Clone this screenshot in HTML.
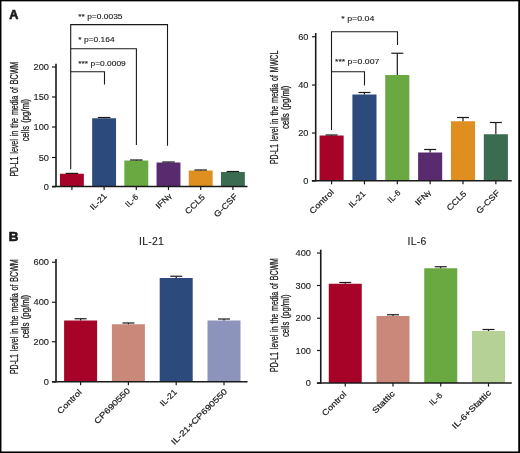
<!DOCTYPE html>
<html lang="en">
<head>
<meta charset="utf-8">
<title>PD-L1 levels figure</title>
<style>
html,body{margin:0;padding:0;background:#fff;}
body{width:520px;height:453px;overflow:hidden;}
svg{display:block;will-change:transform;font-family:'Liberation Sans', Arial, Helvetica, sans-serif;}
</style>
</head>
<body>
<svg width="520" height="453" viewBox="0 0 520 453">
<rect width="520" height="453" fill="#fff"/>
<rect x="59.95" y="173.75" width="23.90" height="12.75" fill="#A70328"/>
<rect x="92.15" y="118.25" width="23.90" height="68.25" fill="#2C4A7C"/>
<rect x="124.35" y="160.50" width="23.90" height="26.00" fill="#6AA842"/>
<rect x="156.55" y="162.50" width="23.90" height="24.00" fill="#592A6E"/>
<rect x="188.75" y="170.50" width="23.90" height="16.00" fill="#DE8F1F"/>
<rect x="220.95" y="172.00" width="23.90" height="14.50" fill="#3B6B50"/>
<line x1="71.9" y1="173.75" x2="71.9" y2="173.4" stroke="#1a1a1a" stroke-width="1.2"/>
<line x1="65.65" y1="173.4" x2="78.15" y2="173.4" stroke="#1a1a1a" stroke-width="1.2"/>
<line x1="104.1" y1="118.25" x2="104.1" y2="117.5" stroke="#1a1a1a" stroke-width="1.2"/>
<line x1="97.85" y1="117.5" x2="110.35" y2="117.5" stroke="#1a1a1a" stroke-width="1.2"/>
<line x1="136.3" y1="160.5" x2="136.3" y2="160" stroke="#1a1a1a" stroke-width="1.2"/>
<line x1="130.05" y1="160" x2="142.55" y2="160" stroke="#1a1a1a" stroke-width="1.2"/>
<line x1="168.5" y1="162.5" x2="168.5" y2="162" stroke="#1a1a1a" stroke-width="1.2"/>
<line x1="162.25" y1="162" x2="174.75" y2="162" stroke="#1a1a1a" stroke-width="1.2"/>
<line x1="200.7" y1="170.5" x2="200.7" y2="170" stroke="#1a1a1a" stroke-width="1.2"/>
<line x1="194.45" y1="170" x2="206.95" y2="170" stroke="#1a1a1a" stroke-width="1.2"/>
<line x1="232.9" y1="172" x2="232.9" y2="171.5" stroke="#1a1a1a" stroke-width="1.2"/>
<line x1="226.65" y1="171.5" x2="239.15" y2="171.5" stroke="#1a1a1a" stroke-width="1.2"/>
<line x1="56" y1="63.8" x2="56" y2="187" stroke="#1a1a1a" stroke-width="1.6"/>
<line x1="52.1" y1="186.5" x2="247.5" y2="186.5" stroke="#1a1a1a" stroke-width="1.6"/>
<line x1="52" y1="67" x2="56" y2="67" stroke="#1a1a1a" stroke-width="1.2"/>
<text transform="translate(49,70.2) scale(1.03,1)" font-size="9.0" text-anchor="end" font-weight="normal" fill="#1a1a1a" stroke="#1a1a1a" stroke-width="0.12">200</text>
<line x1="52" y1="97" x2="56" y2="97" stroke="#1a1a1a" stroke-width="1.2"/>
<text transform="translate(49,100.2) scale(1.03,1)" font-size="9.0" text-anchor="end" font-weight="normal" fill="#1a1a1a" stroke="#1a1a1a" stroke-width="0.12">150</text>
<line x1="52" y1="127" x2="56" y2="127" stroke="#1a1a1a" stroke-width="1.2"/>
<text transform="translate(49,130.2) scale(1.03,1)" font-size="9.0" text-anchor="end" font-weight="normal" fill="#1a1a1a" stroke="#1a1a1a" stroke-width="0.12">100</text>
<line x1="52" y1="157.5" x2="56" y2="157.5" stroke="#1a1a1a" stroke-width="1.2"/>
<text transform="translate(49,160.7) scale(1.03,1)" font-size="9.0" text-anchor="end" font-weight="normal" fill="#1a1a1a" stroke="#1a1a1a" stroke-width="0.12">50</text>
<line x1="52" y1="186.75" x2="56" y2="186.75" stroke="#1a1a1a" stroke-width="1.2"/>
<text transform="translate(49,189.95) scale(1.03,1)" font-size="9.0" text-anchor="end" font-weight="normal" fill="#1a1a1a" stroke="#1a1a1a" stroke-width="0.12">0</text>
<line x1="71.9" y1="186.5" x2="71.9" y2="190.1" stroke="#1a1a1a" stroke-width="1.2"/>
<line x1="104.1" y1="186.5" x2="104.1" y2="190.1" stroke="#1a1a1a" stroke-width="1.2"/>
<line x1="136.3" y1="186.5" x2="136.3" y2="190.1" stroke="#1a1a1a" stroke-width="1.2"/>
<line x1="168.5" y1="186.5" x2="168.5" y2="190.1" stroke="#1a1a1a" stroke-width="1.2"/>
<line x1="200.7" y1="186.5" x2="200.7" y2="190.1" stroke="#1a1a1a" stroke-width="1.2"/>
<line x1="232.9" y1="186.5" x2="232.9" y2="190.1" stroke="#1a1a1a" stroke-width="1.2"/>
<text transform="translate(107.25,196.55) rotate(-45) scale(1.06,1)" font-size="8.2" text-anchor="end" font-weight="normal" fill="#1a1a1a" stroke="#1a1a1a" stroke-width="0.2">IL-21</text>
<text transform="translate(138.75,197.5) rotate(-45) scale(1.02,1)" font-size="8.2" text-anchor="end" font-weight="normal" fill="#1a1a1a" stroke="#1a1a1a" stroke-width="0.2">IL-6</text>
<text transform="translate(171.9,196.4) rotate(-45) scale(1.1,1)" font-size="8.2" text-anchor="end" font-weight="normal" fill="#1a1a1a" stroke="#1a1a1a" stroke-width="0.2">IFN<tspan font-size="6.8">γ</tspan></text>
<text transform="translate(205.4,197.7) rotate(-45) scale(1.15,1)" font-size="8.2" text-anchor="end" font-weight="normal" fill="#1a1a1a" stroke="#1a1a1a" stroke-width="0.2">CCL5</text>
<text transform="translate(238.1,197.05) rotate(-45) scale(1.15,1)" font-size="8.2" text-anchor="end" font-weight="normal" fill="#1a1a1a" stroke="#1a1a1a" stroke-width="0.2">G-CSF</text>
<path d="M70.7 169.3 V24.6 H167.5 V145.8" fill="none" stroke="#1a1a1a" stroke-width="1.1"/>
<path d="M70.7 48.7 H136.4 V145" fill="none" stroke="#1a1a1a" stroke-width="1.1"/>
<path d="M70.7 71.7 H104.5 V84.5" fill="none" stroke="#1a1a1a" stroke-width="1.1"/>
<text transform="translate(78.3,19) scale(1.08,1)" font-size="7.8" text-anchor="start" font-weight="normal" fill="#1a1a1a" stroke="#1a1a1a" stroke-width="0.12">** p=0.0035</text>
<text transform="translate(78.3,42.2) scale(1.08,1)" font-size="7.8" text-anchor="start" font-weight="normal" fill="#1a1a1a" stroke="#1a1a1a" stroke-width="0.12">* p=0.164</text>
<text transform="translate(78.3,66.3) scale(1.08,1)" font-size="7.8" text-anchor="start" font-weight="normal" fill="#1a1a1a" stroke="#1a1a1a" stroke-width="0.12">*** p=0.0009</text>
<text transform="translate(17.9,119.2) rotate(-90)" font-size="10.4" text-anchor="middle" textLength="114.8" lengthAdjust="spacingAndGlyphs" fill="#1a1a1a" stroke="#1a1a1a" stroke-width="0.28" word-spacing="1.4">PD-L1 level in the media of BCWM</text>
<text transform="translate(28.6,120.1) rotate(-90)" font-size="10.4" text-anchor="middle" textLength="42.5" lengthAdjust="spacingAndGlyphs" fill="#1a1a1a" stroke="#1a1a1a" stroke-width="0.28" word-spacing="1.4">cells (pg/ml)</text>
<rect x="319.55" y="135.50" width="24.10" height="45.25" fill="#A70328"/>
<rect x="352.40" y="94.50" width="24.10" height="86.25" fill="#2C4A7C"/>
<rect x="385.25" y="75.00" width="24.10" height="105.75" fill="#6AA842"/>
<rect x="418.10" y="152.50" width="24.10" height="28.25" fill="#592A6E"/>
<rect x="450.95" y="121.25" width="24.10" height="59.50" fill="#DE8F1F"/>
<rect x="483.80" y="134.25" width="24.10" height="46.50" fill="#3B6B50"/>
<line x1="331.6" y1="135.5" x2="331.6" y2="135" stroke="#1a1a1a" stroke-width="1.2"/>
<line x1="325.6" y1="135" x2="337.6" y2="135" stroke="#1a1a1a" stroke-width="1.2"/>
<line x1="364.45" y1="94.5" x2="364.45" y2="92.5" stroke="#1a1a1a" stroke-width="1.2"/>
<line x1="358.45" y1="92.5" x2="370.45" y2="92.5" stroke="#1a1a1a" stroke-width="1.2"/>
<line x1="397.3" y1="75" x2="397.3" y2="53.25" stroke="#1a1a1a" stroke-width="1.2"/>
<line x1="391.3" y1="53.25" x2="403.3" y2="53.25" stroke="#1a1a1a" stroke-width="1.2"/>
<line x1="430.15" y1="152.5" x2="430.15" y2="149.5" stroke="#1a1a1a" stroke-width="1.2"/>
<line x1="424.15" y1="149.5" x2="436.15" y2="149.5" stroke="#1a1a1a" stroke-width="1.2"/>
<line x1="463" y1="121.25" x2="463" y2="117.5" stroke="#1a1a1a" stroke-width="1.2"/>
<line x1="457" y1="117.5" x2="469" y2="117.5" stroke="#1a1a1a" stroke-width="1.2"/>
<line x1="495.85" y1="134.25" x2="495.85" y2="122.5" stroke="#1a1a1a" stroke-width="1.2"/>
<line x1="489.85" y1="122.5" x2="501.85" y2="122.5" stroke="#1a1a1a" stroke-width="1.2"/>
<line x1="315.7" y1="33" x2="315.7" y2="181.25" stroke="#1a1a1a" stroke-width="1.6"/>
<line x1="311.8" y1="180.75" x2="511.75" y2="180.75" stroke="#1a1a1a" stroke-width="1.6"/>
<line x1="312" y1="36.75" x2="315.7" y2="36.75" stroke="#1a1a1a" stroke-width="1.2"/>
<text transform="translate(308.5,39.95) scale(1.03,1)" font-size="9.0" text-anchor="end" font-weight="normal" fill="#1a1a1a" stroke="#1a1a1a" stroke-width="0.12">60</text>
<line x1="312" y1="85" x2="315.7" y2="85" stroke="#1a1a1a" stroke-width="1.2"/>
<text transform="translate(308.5,88.2) scale(1.03,1)" font-size="9.0" text-anchor="end" font-weight="normal" fill="#1a1a1a" stroke="#1a1a1a" stroke-width="0.12">40</text>
<line x1="312" y1="133" x2="315.7" y2="133" stroke="#1a1a1a" stroke-width="1.2"/>
<text transform="translate(308.5,136.2) scale(1.03,1)" font-size="9.0" text-anchor="end" font-weight="normal" fill="#1a1a1a" stroke="#1a1a1a" stroke-width="0.12">20</text>
<line x1="312" y1="181" x2="315.7" y2="181" stroke="#1a1a1a" stroke-width="1.2"/>
<text transform="translate(308.5,184.2) scale(1.03,1)" font-size="9.0" text-anchor="end" font-weight="normal" fill="#1a1a1a" stroke="#1a1a1a" stroke-width="0.12">0</text>
<line x1="331.6" y1="180.75" x2="331.6" y2="184.35" stroke="#1a1a1a" stroke-width="1.2"/>
<line x1="364.45" y1="180.75" x2="364.45" y2="184.35" stroke="#1a1a1a" stroke-width="1.2"/>
<line x1="397.3" y1="180.75" x2="397.3" y2="184.35" stroke="#1a1a1a" stroke-width="1.2"/>
<line x1="430.15" y1="180.75" x2="430.15" y2="184.35" stroke="#1a1a1a" stroke-width="1.2"/>
<line x1="463" y1="180.75" x2="463" y2="184.35" stroke="#1a1a1a" stroke-width="1.2"/>
<line x1="495.85" y1="180.75" x2="495.85" y2="184.35" stroke="#1a1a1a" stroke-width="1.2"/>
<text transform="translate(334.4,192.75) rotate(-45) scale(1.16,1)" font-size="8.2" text-anchor="end" font-weight="normal" fill="#1a1a1a" stroke="#1a1a1a" stroke-width="0.2">Control</text>
<text transform="translate(365.9,194.3) rotate(-45) scale(1.06,1)" font-size="8.2" text-anchor="end" font-weight="normal" fill="#1a1a1a" stroke="#1a1a1a" stroke-width="0.2">IL-21</text>
<text transform="translate(400.95,193.2) rotate(-45) scale(1.02,1)" font-size="8.2" text-anchor="end" font-weight="normal" fill="#1a1a1a" stroke="#1a1a1a" stroke-width="0.2">IL-6</text>
<text transform="translate(431.5,193.0) rotate(-45) scale(1.1,1)" font-size="8.2" text-anchor="end" font-weight="normal" fill="#1a1a1a" stroke="#1a1a1a" stroke-width="0.2">IFN<tspan font-size="6.8">γ</tspan></text>
<text transform="translate(467.0,194.2) rotate(-45) scale(1.15,1)" font-size="8.2" text-anchor="end" font-weight="normal" fill="#1a1a1a" stroke="#1a1a1a" stroke-width="0.2">CCL5</text>
<text transform="translate(500.3,193.4) rotate(-45) scale(1.15,1)" font-size="8.2" text-anchor="end" font-weight="normal" fill="#1a1a1a" stroke="#1a1a1a" stroke-width="0.2">G-CSF</text>
<path d="M331.5 130 V31.7 H397.5 V45" fill="none" stroke="#1a1a1a" stroke-width="1.1"/>
<path d="M331.5 71.7 H364.5 V85.5" fill="none" stroke="#1a1a1a" stroke-width="1.1"/>
<text transform="translate(341.3,21.3) scale(1.13,1)" font-size="7.8" text-anchor="start" font-weight="normal" fill="#1a1a1a" stroke="#1a1a1a" stroke-width="0.12">* p=0.04</text>
<text transform="translate(335,63.8) scale(1.12,1)" font-size="7.8" text-anchor="start" font-weight="normal" fill="#1a1a1a" stroke="#1a1a1a" stroke-width="0.12">*** p=0.007</text>
<text transform="translate(277.9,107.4) rotate(-90)" font-size="10.4" text-anchor="middle" textLength="113.39999999999999" lengthAdjust="spacingAndGlyphs" fill="#1a1a1a" stroke="#1a1a1a" stroke-width="0.28" word-spacing="1.4">PD-L1 level in the media of MWCL</text>
<text transform="translate(288.6,107.3) rotate(-90)" font-size="10.4" text-anchor="middle" textLength="43.4" lengthAdjust="spacingAndGlyphs" fill="#1a1a1a" stroke="#1a1a1a" stroke-width="0.28" word-spacing="1.4">cells (pg/ml)</text>
<rect x="64.10" y="320.50" width="33.00" height="61.25" fill="#A70328"/>
<rect x="111.90" y="324.25" width="33.00" height="57.50" fill="#CA887B"/>
<rect x="159.70" y="278.00" width="33.00" height="103.75" fill="#2C4A7C"/>
<rect x="207.50" y="320.50" width="33.00" height="61.25" fill="#8D94BC"/>
<line x1="80.6" y1="320.5" x2="80.6" y2="318.75" stroke="#1a1a1a" stroke-width="1.2"/>
<line x1="74.6" y1="318.75" x2="86.6" y2="318.75" stroke="#1a1a1a" stroke-width="1.2"/>
<line x1="128.4" y1="324.25" x2="128.4" y2="323" stroke="#1a1a1a" stroke-width="1.2"/>
<line x1="122.4" y1="323" x2="134.4" y2="323" stroke="#1a1a1a" stroke-width="1.2"/>
<line x1="176.2" y1="278" x2="176.2" y2="276.25" stroke="#1a1a1a" stroke-width="1.2"/>
<line x1="170.2" y1="276.25" x2="182.2" y2="276.25" stroke="#1a1a1a" stroke-width="1.2"/>
<line x1="224" y1="320.5" x2="224" y2="319" stroke="#1a1a1a" stroke-width="1.2"/>
<line x1="218" y1="319" x2="230" y2="319" stroke="#1a1a1a" stroke-width="1.2"/>
<line x1="56" y1="259" x2="56" y2="382.25" stroke="#1a1a1a" stroke-width="1.6"/>
<line x1="52.1" y1="381.75" x2="247.5" y2="381.75" stroke="#1a1a1a" stroke-width="1.6"/>
<line x1="52" y1="262.25" x2="56" y2="262.25" stroke="#1a1a1a" stroke-width="1.2"/>
<text transform="translate(49,265.45) scale(1.03,1)" font-size="9.0" text-anchor="end" font-weight="normal" fill="#1a1a1a" stroke="#1a1a1a" stroke-width="0.12">600</text>
<line x1="52" y1="302.25" x2="56" y2="302.25" stroke="#1a1a1a" stroke-width="1.2"/>
<text transform="translate(49,305.45) scale(1.03,1)" font-size="9.0" text-anchor="end" font-weight="normal" fill="#1a1a1a" stroke="#1a1a1a" stroke-width="0.12">400</text>
<line x1="52" y1="341.75" x2="56" y2="341.75" stroke="#1a1a1a" stroke-width="1.2"/>
<text transform="translate(49,344.95) scale(1.03,1)" font-size="9.0" text-anchor="end" font-weight="normal" fill="#1a1a1a" stroke="#1a1a1a" stroke-width="0.12">200</text>
<line x1="52" y1="382" x2="56" y2="382" stroke="#1a1a1a" stroke-width="1.2"/>
<text transform="translate(49,385.2) scale(1.03,1)" font-size="9.0" text-anchor="end" font-weight="normal" fill="#1a1a1a" stroke="#1a1a1a" stroke-width="0.12">0</text>
<line x1="80.6" y1="381.75" x2="80.6" y2="385.35" stroke="#1a1a1a" stroke-width="1.2"/>
<line x1="128.4" y1="381.75" x2="128.4" y2="385.35" stroke="#1a1a1a" stroke-width="1.2"/>
<line x1="176.2" y1="381.75" x2="176.2" y2="385.35" stroke="#1a1a1a" stroke-width="1.2"/>
<line x1="224" y1="381.75" x2="224" y2="385.35" stroke="#1a1a1a" stroke-width="1.2"/>
<text transform="translate(82.25,392.7) rotate(-45) scale(1.16,1)" font-size="8.2" text-anchor="end" font-weight="normal" fill="#1a1a1a" stroke="#1a1a1a" stroke-width="0.2">Control</text>
<text transform="translate(130.65,391.25) rotate(-45) scale(1.21,1)" font-size="8.2" text-anchor="end" font-weight="normal" fill="#1a1a1a" stroke="#1a1a1a" stroke-width="0.2">CP690550</text>
<text transform="translate(177.3,392.7) rotate(-45) scale(1.06,1)" font-size="8.2" text-anchor="end" font-weight="normal" fill="#1a1a1a" stroke="#1a1a1a" stroke-width="0.2">IL-21</text>
<text transform="translate(227.7,392.05) rotate(-45) scale(1.21,1)" font-size="8.2" text-anchor="end" font-weight="normal" fill="#1a1a1a" stroke="#1a1a1a" stroke-width="0.2">IL-21+CP690550</text>
<text transform="translate(139.0,245)" font-size="10.4" text-anchor="start" font-weight="normal" fill="#1a1a1a" letter-spacing="0.25" stroke="#1a1a1a" stroke-width="0.12">IL-21</text>
<text transform="translate(17.9,316.7) rotate(-90)" font-size="10.4" text-anchor="middle" textLength="114.8" lengthAdjust="spacingAndGlyphs" fill="#1a1a1a" stroke="#1a1a1a" stroke-width="0.28" word-spacing="1.4">PD-L1 level in the media of BCWM</text>
<text transform="translate(28.6,316.5) rotate(-90)" font-size="10.4" text-anchor="middle" textLength="43.5" lengthAdjust="spacingAndGlyphs" fill="#1a1a1a" stroke="#1a1a1a" stroke-width="0.28" word-spacing="1.4">cells (pg/ml)</text>
<rect x="328.75" y="283.75" width="33.00" height="99.25" fill="#A70328"/>
<rect x="376.50" y="316.00" width="33.00" height="67.00" fill="#CA887B"/>
<rect x="424.25" y="268.25" width="33.00" height="114.75" fill="#6AA842"/>
<rect x="472.00" y="331.00" width="33.00" height="52.00" fill="#B5D196"/>
<line x1="345.25" y1="283.75" x2="345.25" y2="282.5" stroke="#1a1a1a" stroke-width="1.2"/>
<line x1="339.25" y1="282.5" x2="351.25" y2="282.5" stroke="#1a1a1a" stroke-width="1.2"/>
<line x1="393" y1="316" x2="393" y2="314.75" stroke="#1a1a1a" stroke-width="1.2"/>
<line x1="387" y1="314.75" x2="399" y2="314.75" stroke="#1a1a1a" stroke-width="1.2"/>
<line x1="440.75" y1="268.25" x2="440.75" y2="266.75" stroke="#1a1a1a" stroke-width="1.2"/>
<line x1="434.75" y1="266.75" x2="446.75" y2="266.75" stroke="#1a1a1a" stroke-width="1.2"/>
<line x1="488.5" y1="331" x2="488.5" y2="329.5" stroke="#1a1a1a" stroke-width="1.2"/>
<line x1="482.5" y1="329.5" x2="494.5" y2="329.5" stroke="#1a1a1a" stroke-width="1.2"/>
<line x1="320.75" y1="249.7" x2="320.75" y2="383.5" stroke="#1a1a1a" stroke-width="1.6"/>
<line x1="316.85" y1="383" x2="511.75" y2="383" stroke="#1a1a1a" stroke-width="1.6"/>
<line x1="317" y1="253" x2="320.75" y2="253" stroke="#1a1a1a" stroke-width="1.2"/>
<text transform="translate(311,256.2) scale(1.03,1)" font-size="9.0" text-anchor="end" font-weight="normal" fill="#1a1a1a" stroke="#1a1a1a" stroke-width="0.12">400</text>
<line x1="317" y1="285.5" x2="320.75" y2="285.5" stroke="#1a1a1a" stroke-width="1.2"/>
<text transform="translate(311,288.7) scale(1.03,1)" font-size="9.0" text-anchor="end" font-weight="normal" fill="#1a1a1a" stroke="#1a1a1a" stroke-width="0.12">300</text>
<line x1="317" y1="318.25" x2="320.75" y2="318.25" stroke="#1a1a1a" stroke-width="1.2"/>
<text transform="translate(311,321.45) scale(1.03,1)" font-size="9.0" text-anchor="end" font-weight="normal" fill="#1a1a1a" stroke="#1a1a1a" stroke-width="0.12">200</text>
<line x1="317" y1="350.5" x2="320.75" y2="350.5" stroke="#1a1a1a" stroke-width="1.2"/>
<text transform="translate(311,353.7) scale(1.03,1)" font-size="9.0" text-anchor="end" font-weight="normal" fill="#1a1a1a" stroke="#1a1a1a" stroke-width="0.12">100</text>
<line x1="317" y1="383.25" x2="320.75" y2="383.25" stroke="#1a1a1a" stroke-width="1.2"/>
<text transform="translate(311,386.45) scale(1.03,1)" font-size="9.0" text-anchor="end" font-weight="normal" fill="#1a1a1a" stroke="#1a1a1a" stroke-width="0.12">0</text>
<line x1="345.25" y1="383" x2="345.25" y2="386.6" stroke="#1a1a1a" stroke-width="1.2"/>
<line x1="393" y1="383" x2="393" y2="386.6" stroke="#1a1a1a" stroke-width="1.2"/>
<line x1="440.75" y1="383" x2="440.75" y2="386.6" stroke="#1a1a1a" stroke-width="1.2"/>
<line x1="488.5" y1="383" x2="488.5" y2="386.6" stroke="#1a1a1a" stroke-width="1.2"/>
<text transform="translate(347.05,394.75) rotate(-45) scale(1.16,1)" font-size="8.2" text-anchor="end" font-weight="normal" fill="#1a1a1a" stroke="#1a1a1a" stroke-width="0.2">Control</text>
<text transform="translate(395.3,394.2) rotate(-45) scale(1.23,1)" font-size="8.2" text-anchor="end" font-weight="normal" fill="#1a1a1a" stroke="#1a1a1a" stroke-width="0.2">Stattic</text>
<text transform="translate(442.75,395.9) rotate(-45) scale(1.02,1)" font-size="8.2" text-anchor="end" font-weight="normal" fill="#1a1a1a" stroke="#1a1a1a" stroke-width="0.2">IL-6</text>
<text transform="translate(491.6,393.3) rotate(-45) scale(1.23,1)" font-size="8.2" text-anchor="end" font-weight="normal" fill="#1a1a1a" stroke="#1a1a1a" stroke-width="0.2">IL-6+Stattic</text>
<text transform="translate(407.5,245)" font-size="10.4" text-anchor="start" font-weight="normal" fill="#1a1a1a" letter-spacing="0.25" stroke="#1a1a1a" stroke-width="0.12">IL-6</text>
<text transform="translate(277.9,315) rotate(-90)" font-size="10.4" text-anchor="middle" textLength="113.8" lengthAdjust="spacingAndGlyphs" fill="#1a1a1a" stroke="#1a1a1a" stroke-width="0.28" word-spacing="1.4">PD-L1 level in the media of BCWM</text>
<text transform="translate(288.6,315.75) rotate(-90)" font-size="10.4" text-anchor="middle" textLength="42.5" lengthAdjust="spacingAndGlyphs" fill="#1a1a1a" stroke="#1a1a1a" stroke-width="0.28" word-spacing="1.4">cells (pg/ml)</text>
<text transform="translate(9.2,18.8) scale(1.04,1)" font-size="12.2" text-anchor="start" font-weight="bold" fill="#1a1a1a" stroke="#1a1a1a" stroke-width="0.6">A</text>
<text transform="translate(8.8,241.4) scale(1.1,1)" font-size="12.2" text-anchor="start" font-weight="bold" fill="#1a1a1a" stroke="#1a1a1a" stroke-width="0.6">B</text>
<rect x="0" y="0" width="520" height="1.35" fill="#000"/>
<rect x="0" y="0" width="1.45" height="453" fill="#000"/>
<rect x="518.25" y="0" width="1.75" height="453" fill="#000"/>
<rect x="0" y="451.45" width="520" height="1.55" fill="#000"/>
</svg>
</body>
</html>
